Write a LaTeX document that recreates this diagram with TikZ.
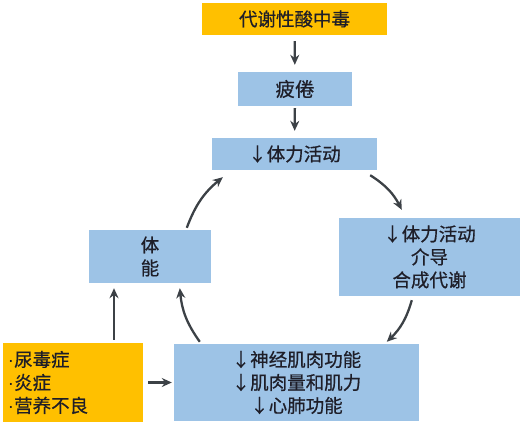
\documentclass[tikz,border=0pt]{standalone}
\usepackage{fontspec}
\setmainfont[FakeBold=0.6]{Noto Sans CJK SC}
\newfontfamily\dotfont{Liberation Sans}
\newcommand{\bul}{{\dotfont ·}}
\usetikzlibrary{arrows.meta,calc}
\definecolor{boxblue}{HTML}{9DC3E6}
\definecolor{boxorange}{HTML}{FFC000}
\definecolor{arrowgray}{HTML}{3C4146}
\definecolor{txt}{HTML}{1E1E28}
\begin{document}
\begin{tikzpicture}[x=1pt,y=-1pt,
   every node/.style={inner sep=0pt, text=txt, font=\fontsize{18.5}{23}\selectfont},
   bluebox/.style={fill=boxblue, align=center},
   orangebox/.style={fill=boxorange},
   arr/.style={-{Stealth[length=10pt,width=9pt]}, draw=arrowgray, line width=2.3pt}]

\useasboundingbox (0,0) rectangle (531,428);

% chain at the top
\node[orangebox, minimum width=185, minimum height=32] (acid) at (294.5,19) {代谢性酸中毒};
\node[bluebox, minimum width=114, minimum height=34, font=\fontsize{19.5}{23}\selectfont] (fatigue) at (295,89) {疲倦};
\node[bluebox, minimum width=165, minimum height=32] (act) at (294.5,154) {↓体力活动};

% the cycle
\node[bluebox, minimum width=122, minimum height=53] (fitness) at (150,256.5) {体\\能};
\node[bluebox, minimum width=181, minimum height=78] (anabol) at (429.5,257) {↓体力活动\\介导\\合成代谢};
\node[bluebox, minimum width=245, minimum height=77] (muscle) at (296.5,382.5) {↓神经肌肉功能\\↓肌肉量和肌力\\↓心肺功能};

% causes
\node[orangebox, text width=130, inner xsep=5, minimum height=79, align=left] (causes) at (73,382.5) {\bul 尿毒症\\\bul 炎症\\\bul 营养不良};

\draw[arr, shorten <=6pt, shorten >=7pt] (acid) -- (fatigue);
\draw[arr, shorten <=2pt, shorten >=7pt] (fatigue) -- (act);

\draw[arr] ($(act.south east)+(-7,5)$) to[bend left=15] ($(anabol.north west)+(63,-8)$);
\draw[arr] ($(anabol.south west)+(73,4)$) to[bend left=15] ($(muscle.north west)+(213,-2)$);
\draw[arr] ($(muscle.north west)+(26,-2)$) to[bend left=15] ($(fitness.south west)+(91,5)$);
\draw[arr] ($(fitness.north west)+(98,-2)$) to[bend left=15] ($(act.south west)+(11,7)$);

\draw[arr, shorten <=3pt, shorten >=5pt] (causes.north -| 114,0) -- (fitness.south -| 114,0);
\draw[arr, shorten <=5pt, shorten >=2pt] (causes.east) -- (muscle.west);

\end{tikzpicture}
\end{document}
